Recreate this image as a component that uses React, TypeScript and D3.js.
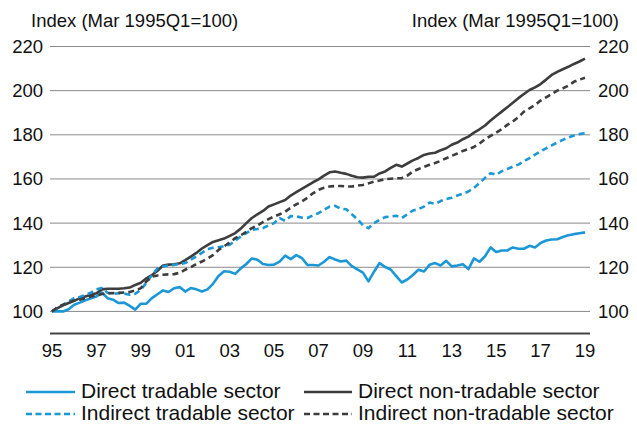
import { useEffect, useRef } from "react";
import * as d3 from "d3";

// Quarterly index values, 1995Q1 to 2019Q1 (Mar 1995Q1 = 100)
const firstYear = 1995;
const quarterCount = 97;

const directTradable = [
  100, 100, 100, 101, 103, 104, 105, 106, 106.8, 108.5, 106, 105.3,
  103.8, 104, 102.5, 100.8, 103.5, 103.5, 106, 107.8, 109.5, 108.8, 110.5, 111,
  109, 110.6, 110, 109, 110, 112.5, 116, 118.2, 118, 117, 119.5, 121.5,
  124, 123.4, 121.5, 121, 121.2, 122.6, 125.3, 123.7, 125.5, 124.2, 121.1, 121,
  120.8, 122.5, 124.6, 123.5, 122.6, 123, 120.5, 119, 117.6, 113.6, 118, 121.9,
  120.1, 119, 116, 113.1, 114.5, 116.5, 118.9, 118.1, 121.1, 121.9, 120.8, 122.9,
  120.4, 120.8, 121.4, 119.2, 124, 122.5, 125, 129, 126.9, 127.6, 127.6, 129,
  128.4, 128.4, 129.7, 129, 131, 132.1, 132.6, 132.7, 133.7, 134.5, 135, 135.4,
  135.8,
];

const directNonTradable = [
  100, 101.5, 102.8, 103.8, 104.8, 106, 106.8, 107.5, 108.2, 110, 110.3, 110.3,
  110.3, 110.5, 110.8, 112, 113, 115, 116.5, 118.4, 120.8, 121.2, 121.4, 121.8,
  123.2, 124.8, 126.5, 128.5, 130, 131.5, 132.2, 133, 134.2, 135.5, 137.5, 140,
  142.3, 144, 145.5, 147.5, 148.5, 149.5, 150.5, 152.5, 154, 155.5, 157, 158.5,
  159.8, 161.5, 163, 163.4, 162.8, 162.3, 161.5, 160.8, 160.6, 161, 161, 162.5,
  163.4, 165, 166.4, 165.6, 167, 168.4, 169.5, 170.9, 171.5, 171.9, 173, 173.9,
  175.5, 176.5, 178, 179.2, 181, 182.5, 184.2, 186.5, 188.5, 190.5, 192.5, 194.5,
  196.6, 198.5, 200.3, 201.5, 203, 205, 207.1, 208.5, 209.7, 210.8, 212.1, 213.2,
  214.5,
];

const indirectTradable = [
  100, 101.5, 103, 104.5, 106, 106.5, 107.5, 108.5, 110, 110.6, 108.5, 107.9,
  108.3, 108, 107.6, 108, 109.8, 113, 116.5, 119.5, 120.4, 120.8, 121.1, 121.5,
  121.9, 123.5, 124.9, 126.5, 128.2, 128.8, 129.1, 129.6, 130.2, 132, 134, 135.5,
  137, 137.3, 137.7, 139, 140, 142.3, 141, 143.2, 143, 142.5, 142.3, 143.5,
  144.5, 146, 147.5, 147.8, 146.5, 146.3, 144, 141.8, 139, 137.7, 140, 141.5,
  142.7, 143, 143.3, 142.3, 144, 145.7, 146.3, 147.5, 149.3, 148.7, 150, 150.9,
  151.5, 152.5, 153.3, 154.3, 156, 158.1, 160.5, 162.6, 161.9, 163.5, 164.5, 165.6,
  166.5, 168, 169.4, 171, 172.5, 173.9, 175.2, 176.5, 177.7, 178.8, 179.7, 180.3,
  180.7,
];

const indirectNonTradable = [
  100, 102, 103, 104, 105, 105.3, 106, 106.8, 107.2, 107.9, 108.2, 108.3,
  108.4, 108.6, 108.8, 109.5, 110.5, 113.6, 115.8, 116.3, 116.6, 116.8, 116.9, 117.5,
  118.9, 120, 121.5, 122.6, 124, 125.5, 127.9, 129.5, 131.2, 133.2, 134.5, 136,
  137.7, 139, 140.5, 141.8, 143, 144, 145.2, 147, 148.5, 149.8, 151.5, 153.5,
  155.1, 156, 156.6, 156.8, 156.8, 156.6, 156.6, 157, 157.3, 158, 158.8, 159.3,
  159.9, 160.1, 160.3, 160.4, 161.5, 163.4, 164.5, 165.5, 166.4, 167.2, 168.2, 169.4,
  170.5, 171.5, 172.7, 173.5, 174.5, 176, 178, 179.5, 181, 182.5, 184.5, 186,
  188, 190.5, 192, 193.5, 195.5, 197, 198.5, 200, 201, 202.3, 204, 205,
  205.8,
];

const yTicks = [100, 120, 140, 160, 180, 200, 220];
const xTickYears = [1995, 1997, 1999, 2001, 2003, 2005, 2007, 2009, 2011, 2013, 2015, 2017, 2019];
const axisTitle = "Index (Mar 1995Q1=100)";

const series = [
  { name: "Direct tradable sector", values: directTradable, color: "#1b97d5", dash: null },
  { name: "Direct non-tradable sector", values: directNonTradable, color: "#3d3d3d", dash: null },
  { name: "Indirect tradable sector", values: indirectTradable, color: "#1b97d5", dash: "6,4" },
  { name: "Indirect non-tradable sector", values: indirectNonTradable, color: "#3d3d3d", dash: "6,4" },
];

const App = () => {
  const svgRef = useRef(null);

  useEffect(() => {
    const svg = d3.select(svgRef.current);
    svg.selectAll("*").remove();

    const width = 637;
    const height = 428;
    const font = "'Liberation Sans', Arial, sans-serif";

    const x = d3.scaleLinear().domain([1995, 2019]).range([52, 585]);
    const y = d3.scaleLinear().domain([90, 220]).range([333.5, 46.5]);
    const gridLeft = 50;
    const gridRight = 590;

    svg.attr("width", width).attr("height", height);

    // horizontal gridlines
    svg
      .append("g")
      .selectAll("line")
      .data(yTicks)
      .join("line")
      .attr("x1", gridLeft)
      .attr("x2", gridRight)
      .attr("y1", (d) => y(d))
      .attr("y2", (d) => y(d))
      .attr("stroke", "#8a8a8a")
      .attr("stroke-width", 1);

    // left and right tick labels
    const tickText = (anchor, xpos) =>
      svg
        .append("g")
        .selectAll("text")
        .data(yTicks)
        .join("text")
        .attr("x", xpos)
        .attr("y", (d) => y(d))
        .attr("dy", "0.35em")
        .attr("text-anchor", anchor)
        .attr("font-family", font)
        .attr("font-size", 18.5)
        .attr("fill", "#111")
        .text((d) => d);
    tickText("end", 43);
    tickText("start", 598);

    // x axis line
    svg
      .append("line")
      .attr("x1", gridLeft)
      .attr("x2", gridRight)
      .attr("y1", y(90))
      .attr("y2", y(90))
      .attr("stroke", "#444")
      .attr("stroke-width", 2);

    svg
      .append("g")
      .selectAll("text")
      .data(xTickYears)
      .join("text")
      .attr("x", (d) => x(d))
      .attr("y", 357)
      .attr("text-anchor", "middle")
      .attr("font-family", font)
      .attr("font-size", 18.5)
      .attr("fill", "#111")
      .text((d) => String(d).slice(2));

    // axis titles
    svg
      .append("text")
      .attr("x", 31)
      .attr("y", 27)
      .attr("font-family", font)
      .attr("font-size", 18.5)
      .attr("fill", "#111")
      .text(axisTitle);
    svg
      .append("text")
      .attr("x", 619)
      .attr("y", 27)
      .attr("text-anchor", "end")
      .attr("font-family", font)
      .attr("font-size", 18.5)
      .attr("fill", "#111")
      .text(axisTitle);

    // lines
    const line = d3
      .line()
      .x((d, i) => x(firstYear + i / 4))
      .y((d) => y(d));

    series.forEach((s) => {
      svg
        .append("path")
        .datum(s.values.slice(0, quarterCount))
        .attr("fill", "none")
        .attr("stroke", s.color)
        .attr("stroke-width", 2.6)
        .attr("stroke-linejoin", "round")
        .attr("stroke-dasharray", s.dash)
        .attr("d", line);
    });

    // legend, two columns
    const legendPos = [
      { lx: 26, tx: 81, ty: 398 },
      { lx: 304, tx: 358, ty: 398 },
      { lx: 26, tx: 81, ty: 420 },
      { lx: 304, tx: 358, ty: 420 },
    ];
    series.forEach((s, i) => {
      const p = legendPos[i];
      svg
        .append("line")
        .attr("x1", p.lx)
        .attr("x2", p.tx - 6)
        .attr("y1", p.ty - 6)
        .attr("y2", p.ty - 6)
        .attr("stroke", s.color)
        .attr("stroke-width", 2.6)
        .attr("stroke-dasharray", s.dash ? "6,3.5" : null);
      svg
        .append("text")
        .attr("x", p.tx)
        .attr("y", p.ty)
        .attr("font-family", font)
        .attr("font-size", 21)
        .attr("fill", "#111")
        .text(s.name);
    });
  }, []);

  return (
    <svg
      ref={svgRef}
      style={{ position: "absolute", left: 0, top: 0, background: "#fff" }}
    ></svg>
  );
};

export default App;
